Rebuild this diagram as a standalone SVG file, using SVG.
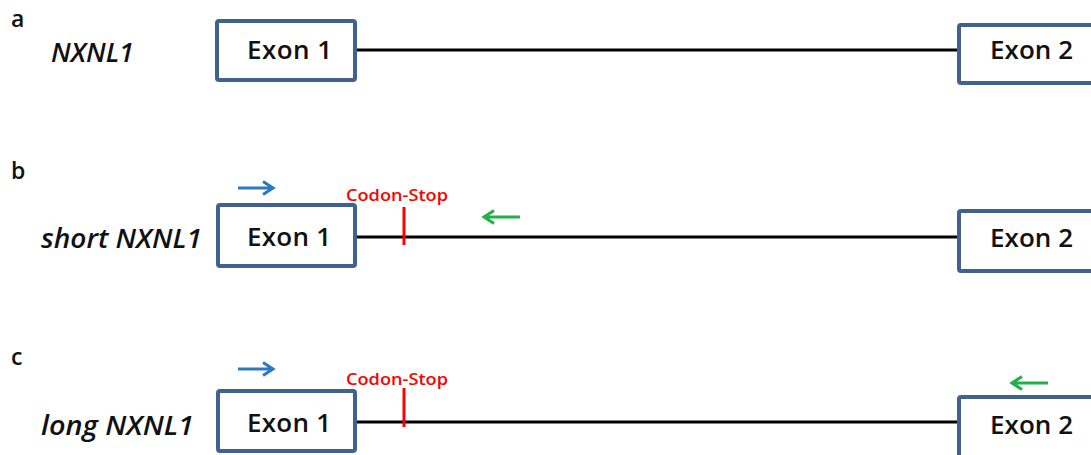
<svg xmlns="http://www.w3.org/2000/svg" width="1091" height="455" viewBox="0 0 1091 455">
<style>
.box{fill:#fff;stroke:#41618e;stroke-width:4}
.ex{font-family:"Open Sans","Liberation Sans",Arial,sans-serif;font-size:26px;font-weight:600;fill:#111}
.lab{font-family:"Open Sans","Liberation Sans",Arial,sans-serif;font-size:23px;font-weight:600;fill:#111}
.gene{font-family:"Open Sans","Liberation Sans",Arial,sans-serif;font-size:27px;font-weight:600;font-style:italic;fill:#111}
.intron{stroke:#000;stroke-width:3;fill:none}
.stop{stroke:#f00;stroke-width:3}
.stoptxt{font-family:"Open Sans","Liberation Sans",Arial,sans-serif;font-size:17px;font-weight:600;fill:#f00}
.fwd{stroke:#2e78c0;stroke-width:3;fill:none}
.rev{stroke:#22b04a;stroke-width:3;fill:none}
</style>
<rect width="1091" height="455" fill="#fff"/>
<g id="connectors">
<line class="intron" x1="357" y1="50" x2="957" y2="50"/>
<line class="intron" x1="357" y1="237" x2="957" y2="237"/>
<line class="intron" x1="357" y1="422" x2="957" y2="422"/>
</g>
<g id="labels">
<text class="lab" x="11" y="27">a</text>
<text class="lab" x="11" y="179">b</text>
<text class="lab" x="11" y="365">c</text>
<text class="gene" x="51" y="62" textLength="83" lengthAdjust="spacingAndGlyphs">NXNL1</text>
<text class="gene" x="41" y="248" textLength="161" lengthAdjust="spacingAndGlyphs">short NXNL1</text>
<text class="gene" x="41" y="435" textLength="153" lengthAdjust="spacingAndGlyphs">long NXNL1</text>
</g>
<g id="row-a-exon1"><rect class="box" x="217" y="21" width="138" height="59" rx="2"/><text class="ex" x="247" y="59" textLength="85">Exon 1</text></g>
<g id="row-a-exon2"><rect class="box" x="959" y="25" width="140" height="58" rx="2"/><text class="ex" x="990" y="59" textLength="83">Exon 2</text></g>
<g id="row-b-exon1"><rect class="box" x="218" y="205" width="137" height="61" rx="2"/><text class="ex" x="247" y="246" textLength="84">Exon 1</text></g>
<g id="row-b-exon2"><rect class="box" x="959" y="211" width="140" height="60" rx="2"/><text class="ex" x="990" y="247" textLength="83">Exon 2</text></g>
<g id="row-c-exon1"><rect class="box" x="218" y="391" width="137" height="60" rx="2"/><text class="ex" x="247" y="432" textLength="84">Exon 1</text></g>
<g id="row-c-exon2"><rect class="box" x="959" y="397" width="140" height="62" rx="2"/><text class="ex" x="990" y="434" textLength="83">Exon 2</text></g>
<g id="row-b-stop">
<line class="stop" x1="404" y1="207" x2="404" y2="245"/>
<text class="stoptxt" x="346" y="201" textLength="102" lengthAdjust="spacingAndGlyphs">Codon-Stop</text>
</g>
<g id="row-c-stop">
<line class="stop" x1="404" y1="388" x2="404" y2="427"/>
<text class="stoptxt" x="346" y="385" textLength="102" lengthAdjust="spacingAndGlyphs">Codon-Stop</text>
</g>
<g id="primers">
<path class="fwd" d="M238,188 H273 M263,181.5 L273,188 L263,194.5"/>
<path class="rev" d="M520,217 H484 M494,210.5 L484,217 L494,223.5"/>
<path class="fwd" d="M238,369 H273 M263,362.5 L273,369 L263,375.5"/>
<path class="rev" d="M1048,383 H1012 M1022,376.5 L1012,383 L1022,389.5"/>
</g>
</svg>
